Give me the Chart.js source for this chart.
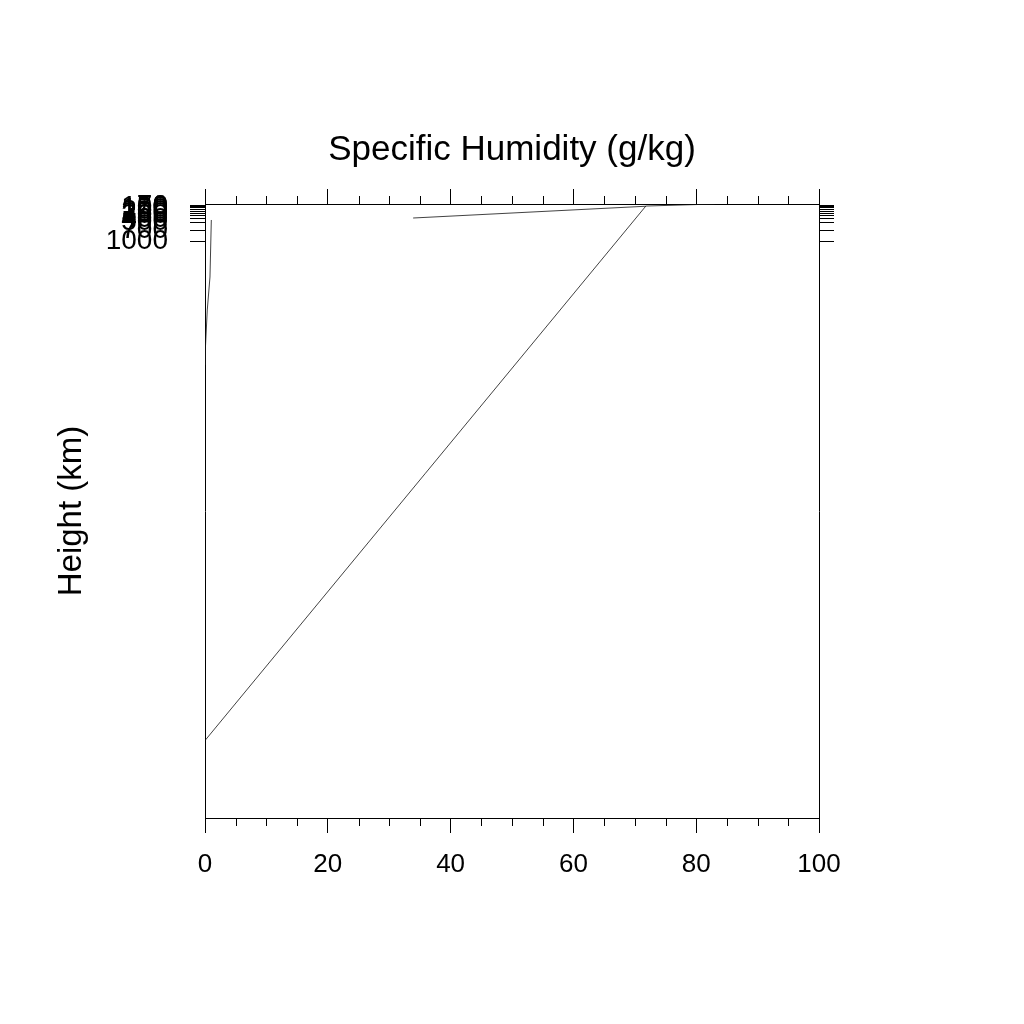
<!DOCTYPE html>
<html>
<head>
<meta charset="utf-8">
<script src="https://cdn.jsdelivr.net/npm/chart.js@4/dist/chart.umd.min.js"></script>
<style>
  body { margin: 0; background: #fff; }
</style>
</head>
<body>
<canvas id="humchart" width="1024" height="1024"></canvas>
<script>
//DATA ------------------------------------------------------------
// left axis tick labels (they pile up at the top like in the original)
var yTicks = [50, 70, 100, 150, 200, 250, 300, 400, 500, 700, 1000];

// long straight profile
var lineAx = [0, 71.8, 83];
var lineAy = [14330, 55, 0];

// short line near the top
var lineBx = [33.9, 71.8];
var lineBy = [374, 60];

// thin curve hugging the left axis
var lineCx = [1.03, 0.81, 0.37, 0.05, 0];
var lineCy = [427, 1950, 2830, 3900, 4300];

function toPoints(xs, ys) {
    var pts = [];
    for (var i = 0; i < xs.length; i++) {
        pts.push({x: xs[i], y: ys[i]});
    }
    return pts;
}

function lineSet(xs, ys) {
    return {
        data: toPoints(xs, ys),
        showLine: true,
        borderColor: '#111',
        borderWidth: 0.8,
        pointRadius: 0,
        fill: false
    };
}

//MINOR TICKS ON TOP AND BOTTOM ---------------------------------------
var minorTicks = {
    id: 'minorTicks',
    afterDraw: function (chart) {
        var ctx = chart.ctx;
        var xs = chart.scales.x;
        var area = chart.chartArea;
        ctx.save();
        ctx.strokeStyle = '#000';
        ctx.lineWidth = 1;
        ctx.beginPath();
        for (var v = 0; v <= 100; v += 5) {
            if (v % 20 == 0) continue;
            var px = Math.round(xs.getPixelForValue(v)) + 0.5;
            ctx.moveTo(px, area.bottom);
            ctx.lineTo(px, area.bottom + 8);
            ctx.moveTo(px, area.top);
            ctx.lineTo(px, area.top - 8);
        }
        ctx.stroke();
        ctx.restore();
    }
};

var tickFont = {family: 'Liberation Sans, Arial, sans-serif', size: 26};
var yTickFont = {family: 'Liberation Sans, Arial, sans-serif', size: 28};
var titleFont = {family: 'Liberation Sans, Arial, sans-serif', size: 35};
var yTitleFont = {family: 'Liberation Sans, Arial, sans-serif', size: 33};

function setTicks(axis) {
    axis.ticks = yTicks.map(function (v) { return {value: v}; });
}

function plainLabel(v) {
    return String(v);
}

//CHART ------------------------------------------------------------
new Chart("humchart", {
    type: 'scatter',
    data: {
        datasets: [
            lineSet(lineAx, lineAy),
            lineSet(lineBx, lineBy),
            lineSet(lineCx, lineCy)
        ]
    },
    options: {
        responsive: false,
        animation: false,
        devicePixelRatio: 1,
        layout: {padding: 0},
        plugins: {
            legend: {display: false},
            tooltip: {enabled: false},
            title: {
                display: true,
                text: 'Specific Humidity (g/kg)',
                color: '#000',
                font: {family: titleFont.family, size: titleFont.size, weight: 'normal', lineHeight: 1.2},
                padding: {top: 129, bottom: 18}
            }
        },
        scales: {
            x: {
                type: 'linear',
                position: 'bottom',
                min: 0,
                max: 100,
                afterFit: function (s) { s.height = 206; },
                ticks: {stepSize: 20, color: '#000', font: tickFont, padding: 16, maxRotation: 0, callback: plainLabel},
                grid: {drawOnChartArea: false, tickLength: 15, tickColor: '#000', tickWidth: 1},
                border: {display: true, color: '#000', width: 1}
            },
            x2: {
                type: 'linear',
                position: 'top',
                min: 0,
                max: 100,
                afterFit: function (s) { s.height = 15; },
                ticks: {stepSize: 20, display: false},
                grid: {drawOnChartArea: false, tickLength: 15, tickColor: '#000', tickWidth: 1},
                border: {display: true, color: '#000', width: 1}
            },
            y: {
                type: 'linear',
                position: 'left',
                reverse: true,
                min: 0,
                max: 16400,
                afterBuildTicks: setTicks,
                afterFit: function (s) { s.width = 205; },
                ticks: {autoSkip: false, color: '#000', font: yTickFont, padding: 22, callback: plainLabel},
                grid: {drawOnChartArea: false, tickLength: 15, tickColor: '#000', tickWidth: 1},
                border: {display: true, color: '#000', width: 1},
                title: {
                    display: true,
                    text: 'Height (km)',
                    color: '#000',
                    font: yTitleFont,
                    padding: {top: 52, bottom: 0}
                }
            },
            y2: {
                type: 'linear',
                position: 'right',
                reverse: true,
                min: 0,
                max: 16400,
                afterBuildTicks: setTicks,
                afterFit: function (s) { s.width = 205; },
                ticks: {autoSkip: false, display: false},
                grid: {drawOnChartArea: false, tickLength: 15, tickColor: '#000', tickWidth: 1},
                border: {display: true, color: '#000', width: 1}
            }
        }
    },
    plugins: [minorTicks]
});
</script>
</body>
</html>
